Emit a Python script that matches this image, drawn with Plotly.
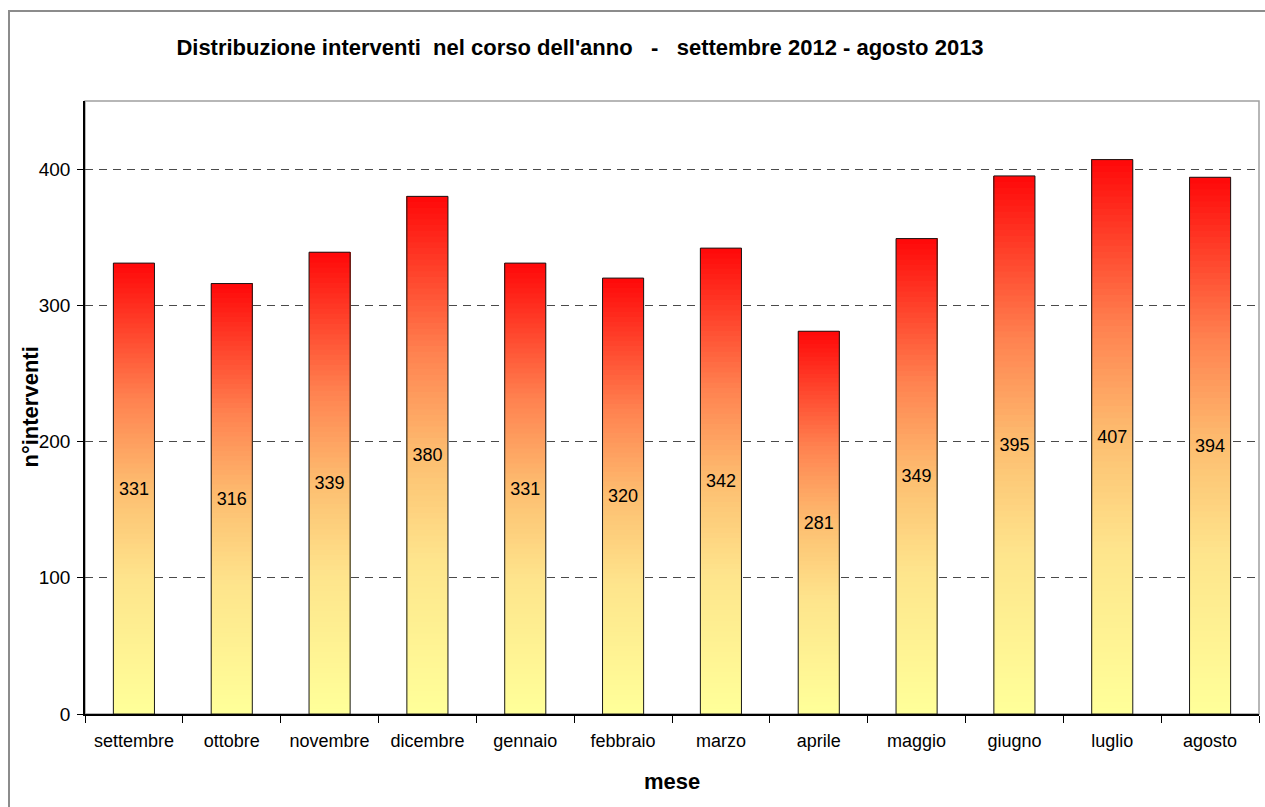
import numpy as np
import plotly.graph_objects as go
from plotly.colors import sample_colorscale

# data
months = ["settembre", "ottobre", "novembre", "dicembre", "gennaio", "febbraio",
          "marzo", "aprile", "maggio", "giugno", "luglio", "agosto"]
interventi = [331, 316, 339, 380, 331, 320, 342, 281, 349, 395, 407, 394]
y_ticks = [0, 100, 200, 300, 400]

TITLE = "Distribuzione interventi\u00a0\u00a0nel corso dell'anno\u00a0\u00a0\u00a0-\u00a0\u00a0\u00a0settembre 2012 - agosto 2013"
FONT = "Liberation Sans, Arial, sans-serif"

# yellow -> orange -> red, as the Excel "fire" style fill
fill_scale = [
    [0.0, "rgb(255,255,153)"],
    [0.3, "rgb(254,228,140)"],
    [0.5, "rgb(253,190,112)"],
    [0.7, "rgb(255,130,80)"],
    [1.0, "rgb(255,10,10)"],
]

BAR_W = 0.42
N_STEPS = 90

W, H = 1265, 807
M_L, M_R, M_T, M_B = 85, 6, 101, 93
PW, PH = W - M_L - M_R, H - M_T - M_B

vals = np.array(interventi, dtype=float)
step_colors = sample_colorscale(fill_scale, list(np.linspace(0, 1, N_STEPS)))

fig = go.Figure()

# gradient fill: each slice runs from its start up to the bar top, later slices
# are drawn over earlier ones, so there are no gaps between them
for k, col in enumerate(step_colors):
    frac = k / N_STEPS
    fig.add_trace(go.Bar(
        x=months, y=vals * (1 - frac), base=vals * frac,
        width=BAR_W, marker={"color": col, "line": {"width": 0}},
        hoverinfo="skip", showlegend=False,
    ))

# outline + value label
fig.add_trace(go.Bar(
    x=months, y=interventi, width=BAR_W,
    marker={"color": "rgba(0,0,0,0)", "line": {"color": "#1a1a1a", "width": 1}},
    text=interventi, textposition="inside", insidetextanchor="middle",
    textfont={"family": FONT, "size": 18, "color": "black"},
    showlegend=False,
))

fig.update_layout(
    width=W, height=H,
    barmode="overlay",
    paper_bgcolor="white", plot_bgcolor="white",
    margin={"l": M_L, "r": M_R, "t": M_T, "b": M_B},
    font={"family": FONT, "size": 18, "color": "black"},
    title={
        "text": f"<b>{TITLE}</b>", "x": 580 / W, "xanchor": "center",
        "y": 1 - 47 / H, "yanchor": "middle", "xref": "container", "yref": "container",
        "font": {"family": FONT, "size": 22, "color": "black"},
    },
    shapes=[
        # plot area frame
        {"type": "rect", "xref": "paper", "yref": "paper", "x0": 0, "y0": 0, "x1": 1, "y1": 1,
         "line": {"color": "#a0a0a0", "width": 1.5}, "layer": "below"},
        # outer chart frame (its right and bottom edges fall outside the picture)
        {"type": "rect", "xref": "paper", "yref": "paper",
         "x0": (9 - M_L) / PW, "y0": (PH + M_T - 11) / PH,
         "x1": (W + 20 - M_L) / PW, "y1": -(M_B + 20) / PH,
         "line": {"color": "#8c8c8c", "width": 2}, "layer": "below"},
    ],
    annotations=[
        {"text": "<b>n°interventi</b>", "xref": "paper", "yref": "paper",
         "x": (30 - M_L) / PW, "y": 0.5, "textangle": -90, "showarrow": False,
         "xanchor": "center", "yanchor": "middle", "font": {"size": 22}},
        {"text": "<b>mese</b>", "xref": "paper", "yref": "paper",
         "x": 0.5, "y": -(780 - 713) / PH, "showarrow": False,
         "xanchor": "center", "yanchor": "middle", "font": {"size": 22}},
    ],
)

fig.update_yaxes(
    range=[0, 450], tickvals=y_ticks, tickfont={"size": 19},
    showline=True, linecolor="black", linewidth=1.5,
    ticks="outside", ticklen=6, tickcolor="black", ticklabelstandoff=3,
    showgrid=True, gridcolor="#4a4a4a", gridwidth=1, griddash="8px,6px",
    zeroline=False, fixedrange=True,
)
fig.update_xaxes(
    type="category", tickson="boundaries",
    showline=True, linecolor="black", linewidth=1.5,
    ticks="outside", ticklen=7, tickcolor="black", ticklabelstandoff=10,
    showgrid=False, fixedrange=True,
)

# drop the default page margin so the figure fills the window exactly
fig.write_html(
    "out.html",
    config={"displayModeBar": False},
    post_script="document.body.style.margin='0';document.body.style.overflow='hidden';",
)
